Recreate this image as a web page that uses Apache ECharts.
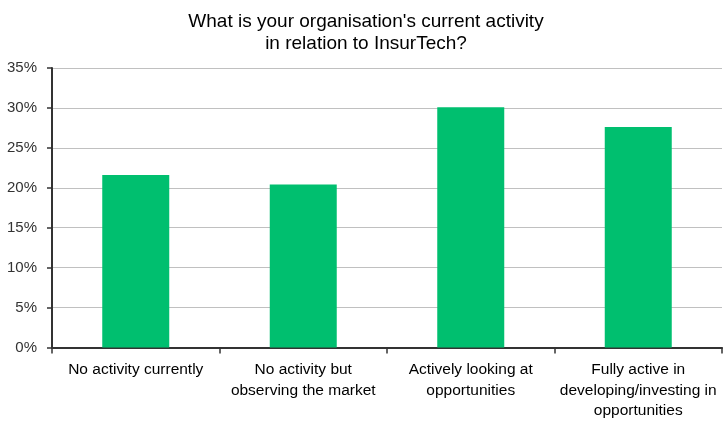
<!DOCTYPE html>
<html><head><meta charset="utf-8">
<script src="https://cdn.jsdelivr.net/npm/echarts@6/dist/echarts.min.js"></script>
<style>html,body{margin:0;padding:0;background:#fff}#c{width:723px;height:421px}</style>
</head><body><div id="c"></div>
<script>
const categories = ["No activity currently", "No activity but\nobserving the market", "Actively looking at\nopportunities", "Fully active in\ndeveloping/investing in\nopportunities"];
const values = [21.6, 20.4, 30.1, 27.6];
const titleText = "What is your organisation's current activity\nin relation to InsurTech?";

const chart = echarts.init(document.getElementById('c'));
chart.setOption({
  animation: false,
  title: {
    text: titleText, left: 361, top: 6, textAlign: 'center',
    textStyle: {fontFamily: 'Liberation Sans', fontSize: 19, fontWeight: 'normal', color: '#000', lineHeight: 22}
  },
  grid: {left: 52, right: 1, top: 68, bottom: 73},
  xAxis: {
    type: 'category', data: categories,
    axisLine: {lineStyle: {color: '#333', width: 2}},
    axisTick: {show: true, length: 6, inside: false, lineStyle: {color: '#333', width: 1.5}},
    axisLabel: {fontFamily: 'Liberation Sans', fontSize: 15.5, color: '#000', lineHeight: 20.5, margin: 12, interval: 0}
  },
  yAxis: {
    type: 'value', min: 0, max: 35, interval: 5,
    axisLine: {show: true, lineStyle: {color: '#333', width: 2}},
    axisTick: {show: true, length: 5, lineStyle: {color: '#333', width: 1.5}},
    axisLabel: {formatter: '{value}%', fontFamily: 'Liberation Sans', fontSize: 15, color: '#333', margin: 15},
    splitLine: {lineStyle: {color: '#c0c0c0', width: 1}}
  },
  series: [{
    type: 'bar', data: values, barWidth: '40%',
    itemStyle: {color: '#00bf6f'}
  }]
});
</script></body></html>
